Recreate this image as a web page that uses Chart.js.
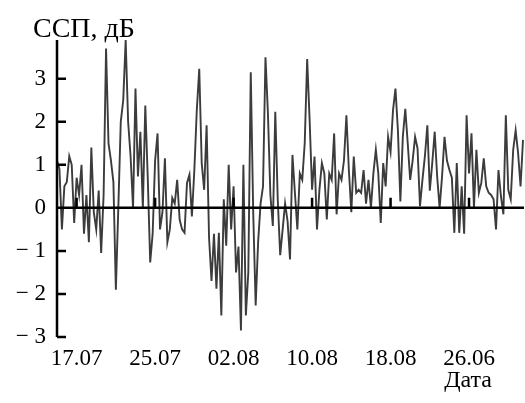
<!DOCTYPE html>
<html lang="ru">
<head>
    <meta charset="UTF-8">
    <title>ССП, дБ</title>
    <script src="https://cdn.jsdelivr.net/npm/chart.js"></script>
    <style>
        body {
            margin: 0;
            background: #fff;
        }

        #wrap {
            position: relative;
            width: 525px;
            height: 403px;
        }
    </style>
</head>
<body>
    <div id="wrap">
        <canvas id="ssp-chart"></canvas>
    </div>

    <script>
        const yTitle = 'ССП, дБ';
        const xTitle = 'Дата';

        // x ticks: days counted from 15.07 (first sample)
        const tickDays = [2, 10, 18, 26, 34, 42];
        const tickLabels = ['17.07', '25.07', '02.08', '10.08', '18.08', '26.06'];
        const yTicks = [-3, -2, -1, 0, 1, 2, 3];

        // one sample every 6 hours
        const samplesPerDay = 4;
        const sspValues = [
            1.1, 0.9, -0.5, 0.5, 0.6, 1.2, 1.0, -0.35, 0.7, 0.3,
            1.0, -0.6, 0.3, -0.8, 1.4, -0.1, -0.5, 0.4, -1.05, 0.3,
            3.7, 1.5, 1.1, 0.6, -1.9, 0.0, 2.0, 2.5, 3.9, 2.0,
            1.2, 0.0, 2.77, 0.73, 1.77, 0.0, 2.38, 0.7, -1.27, -0.6,
            1.1, 1.73, -0.5, -0.1, 1.15, -0.8, -0.5, 0.23, 0.1, 0.65,
            -0.27, -0.5, -0.58, 0.58, 0.77, -0.2, 0.88, 2.27, 3.23, 1.04,
            0.42, 1.92, -0.7, -1.7, -0.6, -1.88, -0.58, -2.5, 0.2, -0.88,
            1.0, -0.5, 0.5, -1.5, -0.9, -2.85, 1.0, -2.5, -1.5, 3.15,
            -0.1, -2.27, -0.8, 0.1, 0.5, 3.5, 2.2, 0.3, -0.42, 2.23,
            0.2, -1.1, -0.5, 0.1, -0.3, -1.2, 1.23, 0.35, -0.5, 0.8,
            0.65, 1.5, 3.46, 2.04, 0.42, 1.19, -0.5, 0.42, 1.04, 0.8,
            -0.27, 0.8, 0.65, 1.73, -0.15, 0.8, 0.65, 1.1, 2.15, 0.88,
            -0.1, 1.19, 0.35, 0.42, 0.35, 0.88, 0.1, 0.65, 0.0, 0.8,
            1.35, 0.8, -0.35, 1.04, 0.5, 1.65, 1.3, 2.27, 2.77, 1.8,
            0.15, 1.65, 2.3, 1.5, 0.65, 1.1, 1.65, 1.38, 0.04, 0.65,
            1.2, 1.92, 0.4, 1.04, 1.77, 0.73, 0.0, 0.73, 1.65, 1.1,
            0.88, 0.7, -0.58, 1.04, -0.58, 0.5, -0.6, 2.15, 0.8, 1.73,
            0.0, 1.35, 0.35, 0.58, 1.15, 0.5, 0.35, 0.3, 0.2, -0.5,
            0.88, 0.27, -0.15, 2.15, 0.42, 0.2, 1.35, 1.8, 1.27, 0.5,
            1.58
        ];

        const fontFamily = '"Liberation Serif", "Times New Roman", serif';

        function formatTick(value) {
            if (value < 0) return '\u2212 ' + Math.abs(value);
            return String(value);
        }

        // draws the axis at x = left, the zero line and the inner tick marks, plus the two captions
        const axesPlugin = {
            id: 'axesPlugin',
            afterDatasetsDraw(chart) {
                const { ctx, chartArea: area, scales: { x, y } } = chart;
                const zeroY = y.getPixelForValue(0);
                ctx.save();
                ctx.strokeStyle = '#000';
                ctx.lineWidth = 2.5;
                ctx.beginPath();
                ctx.moveTo(area.left, area.top);
                ctx.lineTo(area.left, area.bottom);
                ctx.moveTo(area.left, zeroY);
                ctx.lineTo(area.right + 1, zeroY);
                yTicks.forEach(v => {
                    const py = y.getPixelForValue(v);
                    ctx.moveTo(area.left, py);
                    ctx.lineTo(area.left + 9, py);
                });
                tickDays.forEach(d => {
                    const px = x.getPixelForValue(d);
                    ctx.moveTo(px, zeroY);
                    ctx.lineTo(px, zeroY - 10);
                });
                ctx.stroke();

                ctx.fillStyle = '#000';
                ctx.textBaseline = 'alphabetic';
                ctx.font = '28px ' + fontFamily;
                ctx.textAlign = 'left';
                ctx.fillText(yTitle, 33, 37);
                ctx.font = '24px ' + fontFamily;
                ctx.textAlign = 'right';
                ctx.fillText(xTitle, 492, 387);
                ctx.restore();
            }
        };

        const ctx = document.getElementById('ssp-chart').getContext('2d');

        new Chart(ctx, {
            type: 'line',
            data: {
                datasets: [{
                    label: yTitle,
                    data: sspValues.map((v, i) => ({ x: i / samplesPerDay, y: v })),
                    borderColor: '#3c3c3c',
                    borderWidth: 1.9,
                    pointRadius: 0,
                    tension: 0,
                    clip: false
                }]
            },
            options: {
                responsive: true,
                maintainAspectRatio: false,
                animation: false,
                layout: {
                    padding: { top: 40, right: 2, left: 0, bottom: 0 }
                },
                plugins: {
                    legend: { display: false },
                    tooltip: { enabled: false },
                    title: { display: false }
                },
                scales: {
                    x: {
                        type: 'linear',
                        min: 0,
                        max: (sspValues.length - 1) / samplesPerDay,
                        grid: { display: false, drawTicks: false },
                        border: { display: false },
                        afterBuildTicks: scale => {
                            scale.ticks = tickDays.map(d => ({ value: d }));
                        },
                        afterFit: scale => {
                            scale.height = 66;
                        },
                        ticks: {
                            autoSkip: false,
                            maxRotation: 0,
                            padding: 8,
                            color: '#000',
                            font: { family: fontFamily, size: 23 },
                            callback: value => tickLabels[tickDays.indexOf(value)]
                        }
                    },
                    y: {
                        min: -3,
                        max: 3.9,
                        grid: { display: false, drawTicks: false },
                        border: { display: false },
                        afterBuildTicks: scale => {
                            scale.ticks = yTicks.map(v => ({ value: v }));
                        },
                        afterFit: scale => {
                            scale.width = 57;
                        },
                        ticks: {
                            padding: 11,
                            color: '#000',
                            font: { family: fontFamily, size: 23 },
                            callback: formatTick
                        }
                    }
                }
            },
            plugins: [axesPlugin]
        });
    </script>
</body>
</html>
